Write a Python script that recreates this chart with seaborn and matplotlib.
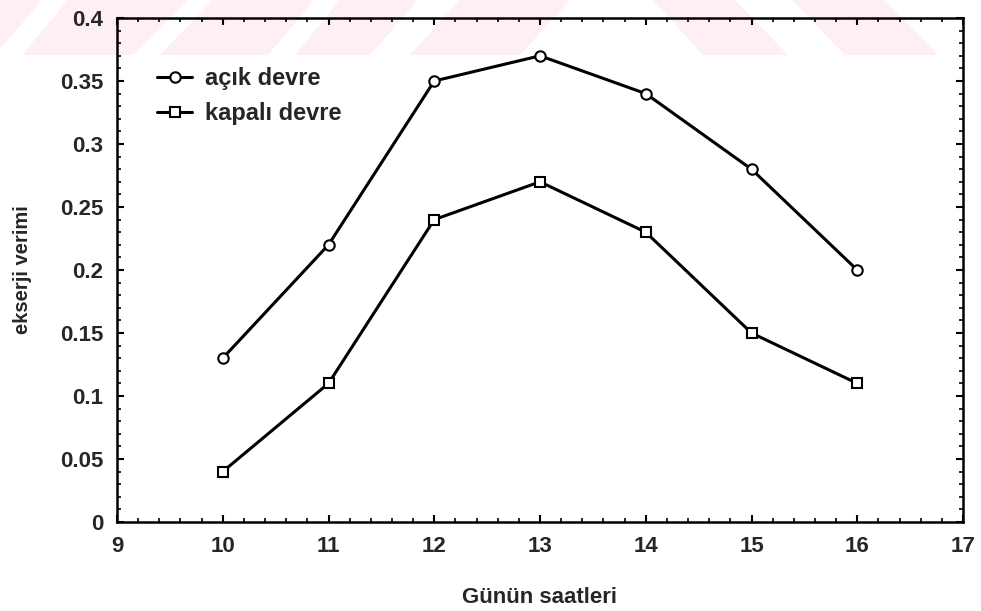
import matplotlib
matplotlib.use("Agg")
import matplotlib.pyplot as plt
import seaborn as sns
import pandas as pd
from matplotlib.ticker import AutoMinorLocator, FuncFormatter, MultipleLocator
from matplotlib.patches import Polygon

hours = [10, 11, 12, 13, 14, 15, 16]
acik_devre = [0.13, 0.22, 0.35, 0.37, 0.34, 0.28, 0.20]
kapali_devre = [0.04, 0.11, 0.24, 0.27, 0.23, 0.15, 0.11]
series_names = ["açık devre", "kapalı devre"]
x_label = "Günün saatleri"
y_label = "ekserji verimi"

sns.set_theme(style="white")
plt.rcParams["font.family"] = ["Liberation Sans", "DejaVu Sans"]
plt.rcParams["font.weight"] = "bold"

W, H = 981, 611
fig = plt.figure(figsize=(W / 100, H / 100), dpi=100)
fig.patch.set_facecolor("white")

# faint watermark band at the top (decoration, in pixel coords)
pink = "#fdeff2"
band_h = 55
def px(x, y):
    return (x / W, 1 - y / H)
fig.patches.append(Polygon([px(0, 0), px(885, 0), px(938, band_h), px(0, band_h)],
                           closed=True, transform=fig.transFigure, facecolor=pink,
                           edgecolor="none", zorder=-3))
gaps = [
    [(-5, band_h), (22, band_h), (68, 0), (42, 0)],
    [(133, band_h), (160, band_h), (213, 0), (187, 0)],
    [(268, band_h), (295, band_h), (340, 0), (314, 0)],
    [(370, band_h), (410, band_h), (460, 0), (418, 0)],
    [(520, band_h), (703, band_h), (653, 0), (570, 0)],
    [(788, band_h), (845, band_h), (792, 0), (735, 0)],
]
for g in gaps:
    fig.patches.append(Polygon([px(a, b) for a, b in g], closed=True,
                               transform=fig.transFigure, facecolor="white",
                               edgecolor="none", zorder=-2))

ax = fig.add_axes([117 / W, 1 - 522 / H, (963 - 117) / W, (522 - 18) / H])
ax.set_facecolor("none")

df = pd.DataFrame({
    "hour": hours * 2,
    "value": acik_devre + kapali_devre,
    "series": [series_names[0]] * len(hours) + [series_names[1]] * len(hours),
})

sns.lineplot(data=df, x="hour", y="value", hue="series", style="series",
             palette=["black", "black"], markers=["o", "s"], dashes=False,
             linewidth=2.2, markersize=7.5, markerfacecolor="white",
             markeredgecolor="black", markeredgewidth=1.5, ax=ax)

ax.set_xlim(9, 17)
ax.set_ylim(0, 0.4)
ax.xaxis.set_major_locator(MultipleLocator(1))
ax.yaxis.set_major_locator(MultipleLocator(0.05))
ax.xaxis.set_minor_locator(AutoMinorLocator(5))
ax.yaxis.set_minor_locator(AutoMinorLocator(5))
ax.yaxis.set_major_formatter(FuncFormatter(lambda v, p: f"{v:g}"))
ax.tick_params(which="both", direction="in", top=True, right=True,
               bottom=True, left=True, color="black")
ax.tick_params(which="major", length=5, width=1.5, labelsize=16, pad=10)
ax.tick_params(which="minor", length=3, width=1.2)
for lab in ax.get_xticklabels() + ax.get_yticklabels():
    lab.set_fontweight("bold")
for s in ax.spines.values():
    s.set_visible(True)
    s.set_color("black")
    s.set_linewidth(1.8)

ax.set_xlabel(x_label, fontsize=16, fontweight="bold", labelpad=22)
ax.set_ylabel(y_label, fontsize=14.5, fontweight="bold", labelpad=20)

leg = ax.legend(loc="upper left", bbox_to_anchor=(0.022, 0.945), frameon=False,
                fontsize=17, handlelength=1.5, handletextpad=0.55, labelspacing=0.5)
for t in leg.get_texts():
    t.set_fontweight("bold")

fig.savefig("out.png", dpi=100, facecolor="white")
